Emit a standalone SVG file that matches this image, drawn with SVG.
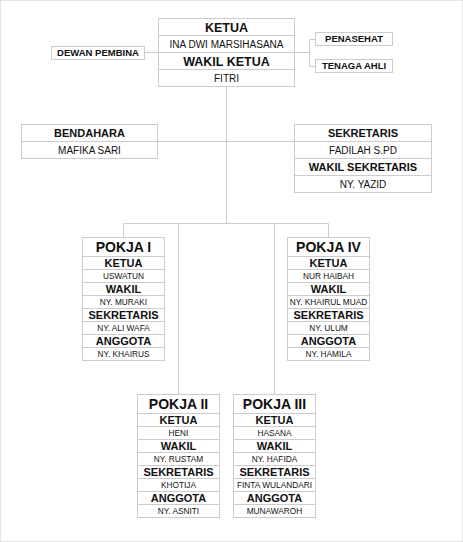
<svg xmlns="http://www.w3.org/2000/svg" width="463" height="542" viewBox="0 0 463 542">
<style>
rect,line,path{fill:none;stroke:#cccccc;stroke-width:1}
rect.bg{fill:#ffffff}
text{font-family:"Liberation Sans",Arial,sans-serif;fill:#111111;text-anchor:middle}
.h{font-weight:bold;font-size:12.5px}
.n{font-size:10px}
.s{font-weight:bold;font-size:9.5px}
.b{font-weight:bold;font-size:11px}
.t{font-weight:bold;font-size:14px}
.m{font-size:8.3px}
</style>
<rect x="0" y="0" width="463" height="542" fill="#ffffff" stroke="none"/>
<g id="connectors">
<line x1="144.5" y1="52.5" x2="158.5" y2="52.5"/>
<path d="M294.5 52.5H309.5M315.5 39.5H309.5V66.5H315.5"/>
<line x1="226.5" y1="86.5" x2="226.5" y2="223.5"/>
<line x1="157.5" y1="141.5" x2="294.5" y2="141.5"/>
<path d="M123.5 237.5V223.5H328.5V237.5M178.5 223.5V394.5M274.5 223.5V394.5"/>
</g>
<g id="ketua">
<rect class="bg" x="158.5" y="18.5" width="136" height="68"/>
<line x1="158.5" y1="35.5" x2="294.5" y2="35.5"/>
<line x1="158.5" y1="52.5" x2="294.5" y2="52.5"/>
<line x1="158.5" y1="69.5" x2="294.5" y2="69.5"/>
<text class="h" x="226.5" y="31.5">KETUA</text>
<text class="n" x="226.5" y="47.6">INA DWI MARSIHASANA</text>
<text class="h" x="226.5" y="65.5">WAKIL KETUA</text>
<text class="n" x="226.5" y="81.6">FITRI</text>
</g>
<g id="dewan-pembina">
<rect class="bg" x="51.5" y="46.5" width="93" height="13"/>
<text class="s" x="98" y="56.4">DEWAN PEMBINA</text>
</g>
<g id="penasehat">
<rect class="bg" x="315.5" y="32.5" width="77" height="13"/>
<text class="s" x="354" y="42.4">PENASEHAT</text>
</g>
<g id="tenaga-ahli">
<rect class="bg" x="315.5" y="59.5" width="77" height="13"/>
<text class="s" x="354" y="69.4">TENAGA AHLI</text>
</g>
<g id="bendahara">
<rect class="bg" x="21.5" y="124.5" width="136" height="34"/>
<line x1="21.5" y1="141.5" x2="157.5" y2="141.5"/>
<text class="b" x="89.5" y="137">BENDAHARA</text>
<text class="n" x="89.5" y="153.6">MAFIKA SARI</text>
</g>
<g id="sekretaris">
<rect class="bg" x="294.5" y="124.5" width="137" height="68"/>
<line x1="294.5" y1="141.5" x2="431.5" y2="141.5"/>
<line x1="294.5" y1="158.5" x2="431.5" y2="158.5"/>
<line x1="294.5" y1="175.5" x2="431.5" y2="175.5"/>
<text class="b" x="363" y="137">SEKRETARIS</text>
<text class="n" x="363" y="153.6">FADILAH S.PD</text>
<text class="b" x="363" y="171">WAKIL SEKRETARIS</text>
<text class="n" x="363" y="187.6">NY. YAZID</text>
</g>
<g id="pokja-1">
<rect class="bg" x="82.5" y="237.5" width="82" height="123"/>
<path d="M82.5 256.5H164.5M82.5 269.5H164.5M82.5 282.5H164.5M82.5 295.5H164.5M82.5 308.5H164.5M82.5 321.5H164.5M82.5 334.5H164.5M82.5 347.5H164.5"/>
<text class="t" x="123.5" y="252">POKJA I</text>
<text class="b" x="123.5" y="267">KETUA</text>
<text class="m" x="123.5" y="279">USWATUN</text>
<text class="b" x="123.5" y="293">WAKIL</text>
<text class="m" x="123.5" y="305">NY. MURAKI</text>
<text class="b" x="123.5" y="319">SEKRETARIS</text>
<text class="m" x="123.5" y="331">NY. ALI WAFA</text>
<text class="b" x="123.5" y="345">ANGGOTA</text>
<text class="m" x="123.5" y="357">NY. KHAIRUS</text>
</g>
<g id="pokja-4">
<rect class="bg" x="287.5" y="237.5" width="82" height="123"/>
<path d="M287.5 256.5H369.5M287.5 269.5H369.5M287.5 282.5H369.5M287.5 295.5H369.5M287.5 308.5H369.5M287.5 321.5H369.5M287.5 334.5H369.5M287.5 347.5H369.5"/>
<text class="t" x="328.5" y="252">POKJA IV</text>
<text class="b" x="328.5" y="267">KETUA</text>
<text class="m" x="328.5" y="279">NUR HAIBAH</text>
<text class="b" x="328.5" y="293">WAKIL</text>
<text class="m" x="328.5" y="305">NY. KHAIRUL MUAD</text>
<text class="b" x="328.5" y="319">SEKRETARIS</text>
<text class="m" x="328.5" y="331">NY. ULUM</text>
<text class="b" x="328.5" y="345">ANGGOTA</text>
<text class="m" x="328.5" y="357">NY. HAMILA</text>
</g>
<g id="pokja-2">
<rect class="bg" x="137.5" y="394.5" width="82" height="123"/>
<path d="M137.5 413.5H219.5M137.5 426.5H219.5M137.5 439.5H219.5M137.5 452.5H219.5M137.5 465.5H219.5M137.5 478.5H219.5M137.5 491.5H219.5M137.5 504.5H219.5"/>
<text class="t" x="178.5" y="409">POKJA II</text>
<text class="b" x="178.5" y="424">KETUA</text>
<text class="m" x="178.5" y="436">HENI</text>
<text class="b" x="178.5" y="450">WAKIL</text>
<text class="m" x="178.5" y="462">NY. RUSTAM</text>
<text class="b" x="178.5" y="476">SEKRETARIS</text>
<text class="m" x="178.5" y="488">KHOTIJA</text>
<text class="b" x="178.5" y="502">ANGGOTA</text>
<text class="m" x="178.5" y="514">NY. ASNITI</text>
</g>
<g id="pokja-3">
<rect class="bg" x="233.5" y="394.5" width="82" height="123"/>
<path d="M233.5 413.5H315.5M233.5 426.5H315.5M233.5 439.5H315.5M233.5 452.5H315.5M233.5 465.5H315.5M233.5 478.5H315.5M233.5 491.5H315.5M233.5 504.5H315.5"/>
<text class="t" x="274.5" y="409">POKJA III</text>
<text class="b" x="274.5" y="424">KETUA</text>
<text class="m" x="274.5" y="436">HASANA</text>
<text class="b" x="274.5" y="450">WAKIL</text>
<text class="m" x="274.5" y="462">NY. HAFIDA</text>
<text class="b" x="274.5" y="476">SEKRETARIS</text>
<text class="m" x="274.5" y="488">FINTA WULANDARI</text>
<text class="b" x="274.5" y="502">ANGGOTA</text>
<text class="m" x="274.5" y="514">MUNAWAROH</text>
</g>
</svg>
